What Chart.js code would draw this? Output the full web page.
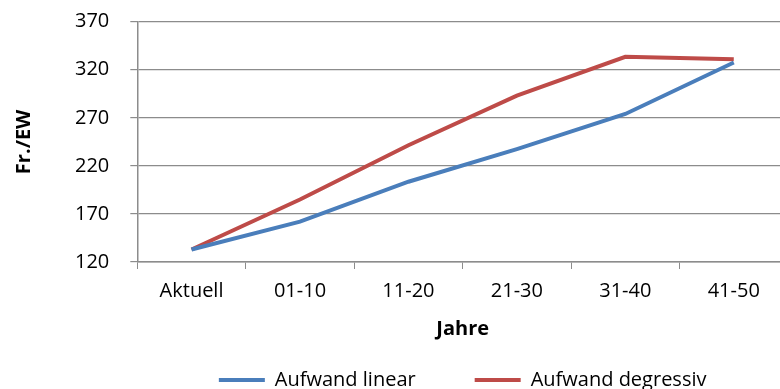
<!DOCTYPE html>
<html>
<head>
  <meta charset="UTF-8">
  <title>Aufwand</title>
  <script src="https://cdn.jsdelivr.net/npm/chart.js"></script>
  <style>
    html, body { margin: 0; padding: 0; background: #fff; overflow: hidden; }
    #wrap { width: 852px; height: 389px; }
  </style>
</head>
<body>
<div id="wrap">
  <canvas id="lineChart" width="852" height="389"></canvas>
</div>

<script>
  const jahre = ['Aktuell', '01-10', '11-20', '21-30', '31-40', '41-50'];
  const aufwandLinear = [133, 162, 203.5, 237.5, 274, 327.5];
  const aufwandDegressiv = [133, 185, 241.5, 293, 333.5, 331];
  const yTicks = [120, 170, 220, 270, 320, 370];

  const fontFam = '"Open Sans", sans-serif';
  const gridColor = '#8c8c8c';

  new Chart(document.getElementById('lineChart'), {
    type: 'line',
    data: {
      labels: jahre,
      datasets: [{
        label: 'Aufwand linear',
        data: aufwandLinear,
        borderColor: '#4a7ebb',
        backgroundColor: '#4a7ebb',
        borderWidth: 4,
        pointRadius: 0,
        tension: 0
      }, {
        label: 'Aufwand degressiv',
        data: aufwandDegressiv,
        borderColor: '#be4b48',
        backgroundColor: '#be4b48',
        borderWidth: 4,
        pointRadius: 0,
        tension: 0
      }]
    },
    options: {
      responsive: false,
      animation: false,
      layout: { padding: { top: 0, left: 0, right: 64, bottom: -11 } },
      plugins: {
        tooltip: { enabled: false },
        legend: {
          position: 'bottom',
          fullSize: false,   // center under the plot area, not the canvas
          labels: {
            color: '#000',
            font: { family: fontFam, size: 20 },
            boxWidth: 46,
            boxHeight: 4,
            padding: 4,
            // wider gap between the two entries
            generateLabels: chart => {
              const items = Chart.defaults.plugins.legend.labels.generateLabels(chart);
              items.forEach((it, i) => {
                it.lineWidth = 0;
                if (i === 0) it.text = it.text + '\u2003\u2003\u2002\u2005';
              });
              return items;
            }
          }
        }
      },
      scales: {
        x: {
          offset: true,
          grid: { display: true, drawOnChartArea: false, drawTicks: true, tickLength: 7, color: gridColor, offset: true },
          border: { color: gridColor, width: 1.5 },
          ticks: { color: '#000', font: { family: fontFam, size: 20 }, padding: 10, maxRotation: 0 },
          title: {
            display: true,
            text: 'Jahre',
            color: '#000',
            font: { family: fontFam, size: 20, weight: 'bold' },
            padding: { top: 4, bottom: 25 }
          }
        },
        y: {
          min: yTicks[0],
          max: yTicks[yTicks.length - 1],
          afterBuildTicks: axis => { axis.ticks = yTicks.map(v => ({ value: v })); },
          // tick padding would otherwise push the plot top down
          afterFit: axis => { axis.paddingTop = 21.7; },
          grid: { color: gridColor, lineWidth: 1.2, tickLength: 7 },
          border: { color: gridColor, width: 1.5 },
          ticks: { color: '#000', font: { family: fontFam, size: 20 }, padding: 21 },
          title: {
            display: true,
            text: 'Fr./EW',
            color: '#000',
            font: { family: fontFam, size: 20, weight: 'bold' },
            padding: { top: 12, bottom: 18 }
          }
        }
      }
    }
  });
</script>
</body>
</html>
